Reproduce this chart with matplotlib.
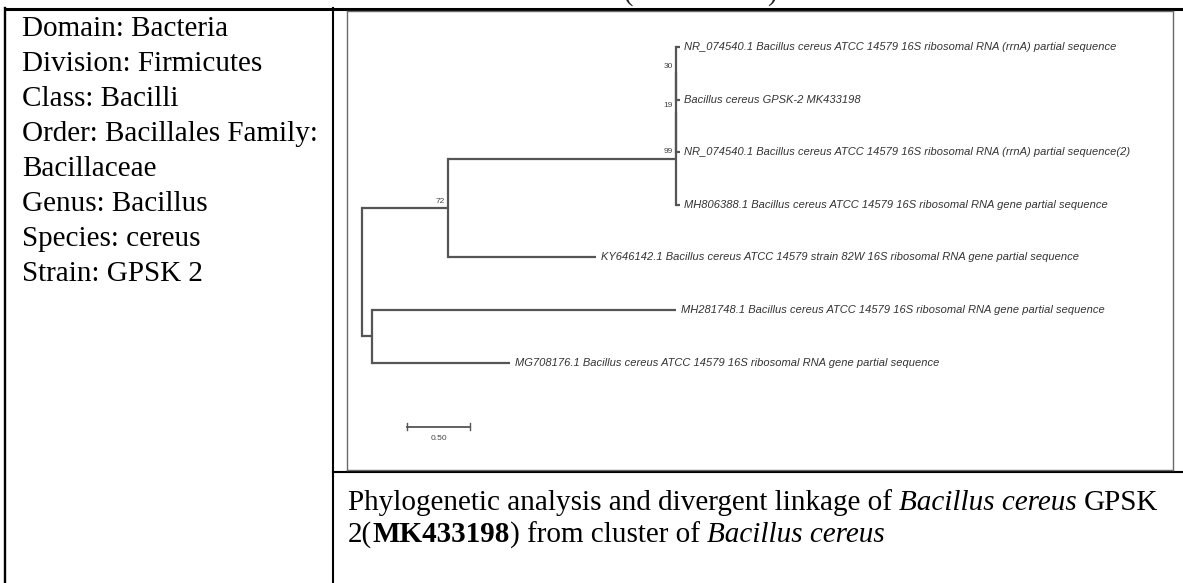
import matplotlib
matplotlib.use("Agg")
import matplotlib.pyplot as plt

W, H = 1183, 583

# left table cell
taxonomy = ["Domain: Bacteria", "Division: Firmicutes", "Class: Bacilli",
            "Order: Bacillales Family:", "Bacillaceae", "Genus: Bacillus",
            "Species: cereus", "Strain: GPSK 2"]

# tree topology: node, parent, branch length (substitutions/site)
nodes   = ["root", "n72", "n99", "n19", "n30", "nE",
           "NR1", "GPSK", "NR2", "MH806", "KY", "MH281", "MG"]
parents = [None, "root", "n72", "n99", "n19", "root",
           "n30", "n30", "n19", "n99", "n72", "nE", "nE"]
blen    = [0.0, 0.68, 1.80, 0.0, 0.0, 0.08,
           0.03, 0.03, 0.03, 0.03, 1.17, 2.40, 1.09]
boot_nodes  = ["n30", "n19", "n99", "n72"]
boot_values = ["30", "19", "99", "72"]

leaf_order  = ["NR1", "GPSK", "NR2", "MH806", "KY", "MH281", "MG"]
leaf_labels = [
    "NR_074540.1 Bacillus cereus ATCC 14579 16S ribosomal RNA (rrnA) partial sequence",
    "Bacillus cereus GPSK-2 MK433198",
    "NR_074540.1 Bacillus cereus ATCC 14579 16S ribosomal RNA (rrnA) partial sequence(2)",
    "MH806388.1 Bacillus cereus ATCC 14579 16S ribosomal RNA gene partial sequence",
    "KY646142.1 Bacillus cereus ATCC 14579 strain 82W 16S ribosomal RNA gene partial sequence",
    "MH281748.1 Bacillus cereus ATCC 14579 16S ribosomal RNA gene partial sequence",
    "MG708176.1 Bacillus cereus ATCC 14579 16S ribosomal RNA gene partial sequence",
]
scale_len = 0.50

caption_line1 = [("Phylogenetic analysis and divergent linkage of", "n", False),
                 ("Bacillus cereus", "i", True), ("GPSK", "n", True)]
caption_line2 = [("2(", "n", False), ("MK433198", "b", False), (")", "n", False),
                 ("from cluster of", "n", True), ("Bacillus cereus", "i", True)]

SERIF = "Liberation Serif"
SANS = "Liberation Sans"
FS = 21

fig = plt.figure(figsize=(W / 100, H / 100), dpi=100)
ax = fig.add_axes([0, 0, 1, 1])
ax.set_xlim(0, W)
ax.set_ylim(H, 0)
ax.axis("off")

# table rules
ax.plot([5, W], [9, 9], color="black", lw=2.2, solid_capstyle="butt")
ax.plot([5.5, 5.5], [8, H], color="black", lw=1.7)
ax.plot([333, 333], [8, H], color="black", lw=1.5)
ax.plot([333, W], [472, 472], color="black", lw=1.5)

# previous line of the page, mostly above the crop
ax.text(23, 1, "Table 1. Characteristics of Bacillus cereus GPSK 2 (MK433198)",
        family=SERIF, fontsize=FS, va="baseline", ha="left", color="#222")

for i, line in enumerate(taxonomy):
    ax.text(22, 29 + 35 * i, line, family=SERIF, fontsize=FS,
            va="center", ha="left", color="black")

renderer = fig.canvas.get_renderer()


def text_width(s, **kw):
    t = ax.text(0, 0, s, **kw)
    w = t.get_window_extent(renderer).width
    t.remove()
    return w


def draw_runs(x, y, parts):
    base = dict(family=SERIF, fontsize=FS, va="center", ha="left")
    space = text_width("x x", **base) - text_width("xx", **base)
    for s, style, sp in parts:
        if sp:
            x += space
        kw = dict(base)
        if style == "i":
            kw["fontstyle"] = "italic"
        if style == "b":
            kw["fontweight"] = "bold"
        t = ax.text(x, y, s, **kw)
        x += t.get_window_extent(renderer).width


draw_runs(348, 503, caption_line1)
draw_runs(348, 535, caption_line2)

# ---- tree panel ----
fx0, fy0, fx1, fy1 = 347, 11, 1173, 470
root_px, px_per_unit = 362, 126.7
leaf_y0, leaf_dy = 47, 52.6
tx = fig.add_axes([fx0 / W, 1 - fy1 / H, (fx1 - fx0) / W, (fy1 - fy0) / H])
tx.set_xlim((fx0 - root_px) / px_per_unit, (fx1 - root_px) / px_per_unit)
tx.set_ylim((fy1 - leaf_y0) / leaf_dy, (fy0 - leaf_y0) / leaf_dy)
tx.set_xticks([])
tx.set_yticks([])
for sp in tx.spines.values():
    sp.set_color("#6a6a6a")
    sp.set_linewidth(1.0)

xpos, ypos = {}, {}
for n, p, b in zip(nodes, parents, blen):
    xpos[n] = 0.0 if p is None else xpos[p] + b
children = {n: [c for c, p in zip(nodes, parents) if p == n] for n in nodes}


def get_y(n):
    if n in leaf_order:
        ypos[n] = leaf_order.index(n)
    else:
        ys = [get_y(c) for c in children[n]]
        ypos[n] = (min(ys) + max(ys)) / 2
    return ypos[n]


get_y("root")

lc = "#555555"
for n, p in zip(nodes, parents):
    if p is not None:
        tx.plot([xpos[p], xpos[n]], [ypos[n], ypos[n]], color=lc, lw=1.6,
                solid_capstyle="butt")
    if children[n]:
        ys = [ypos[c] for c in children[n]]
        tx.plot([xpos[n], xpos[n]], [min(ys), max(ys)], color=lc, lw=1.6,
                solid_capstyle="projecting")

for n, lab in zip(leaf_order, leaf_labels):
    tx.text(xpos[n] + 0.035, ypos[n], lab, family=SANS, fontstyle="italic",
            fontsize=8.0, va="center", ha="left", color="#333333")

for n, v in zip(boot_nodes, boot_values):
    tx.text(xpos[n] - 0.025, ypos[n] - 0.13, v, family=SANS, fontsize=6,
            va="center", ha="right", color="#444444")

# scale bar
sb_x0, sb_y = 0.355, 7.22
tx.plot([sb_x0, sb_x0 + scale_len], [sb_y, sb_y], color=lc, lw=1.3)
for xe in (sb_x0, sb_x0 + scale_len):
    tx.plot([xe, xe], [sb_y - 0.07, sb_y + 0.07], color=lc, lw=1.0)
tx.text(sb_x0 + scale_len / 2, sb_y + 0.22, f"{scale_len:.2f}", family=SANS,
        fontsize=6, ha="center", va="center", color="#444444")

fig.savefig("out.png", dpi=100)
